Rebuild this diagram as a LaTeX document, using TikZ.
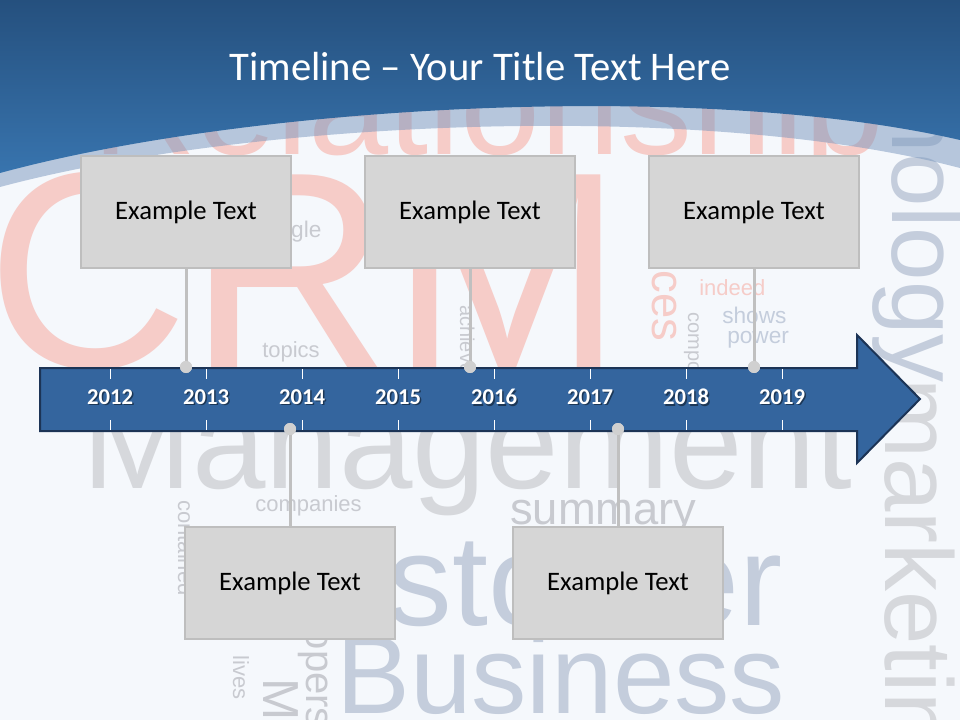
\documentclass[tikz,border=0pt]{standalone}
\usepackage{fontspec}
\setmainfont{Carlito}
\newfontfamily\cloudfont{Liberation Sans}
\usetikzlibrary{positioning}
\definecolor{pagebg}{RGB}{245,248,252}
\definecolor{bandlight}{RGB}{120,150,190}
\definecolor{bluetop}{RGB}{37,80,126}
\definecolor{bluebot}{RGB}{56,116,174}
\definecolor{arrowfill}{RGB}{52,101,158}
\definecolor{arrowedge}{RGB}{28,52,86}
\definecolor{boxfill}{RGB}{214,214,214}
\definecolor{boxedge}{RGB}{190,190,190}
\definecolor{stemgray}{RGB}{192,192,192}
\definecolor{dotgray}{RGB}{208,208,208}
\definecolor{crmpink}{RGB}{246,204,200}
\definecolor{wordgray}{RGB}{214,216,220}
\definecolor{wordblue}{RGB}{196,205,220}
\definecolor{smallgray}{RGB}{200,202,208}
\begin{document}
\begin{tikzpicture}[x=0.75pt,y=-0.75pt,
  cloud/.style={anchor=base west,inner sep=0pt},
  eventbox/.style={draw=boxedge,fill=boxfill,line width=1.5pt,minimum width=157pt,minimum height=84pt,
    font=\fontsize{20}{24}\selectfont},
  stem/.style={draw=stemgray,line width=2.25pt},
  stemdot/.style={circle,fill=dotgray,inner sep=0pt,minimum size=9pt},
  yearlabel/.style={text=white,font=\bfseries\fontsize{17}{20}\selectfont},
  yearshadow/.style={text=black,opacity=0.45,font=\bfseries\fontsize{17}{20}\selectfont},
  tick/.style={draw=white,line width=0.75pt},
  timearrow/.style={fill=arrowfill,draw=arrowedge,line width=1.5pt,line join=miter}]
\useasboundingbox (0,0) rectangle (960,720);
\begin{scope}
\clip (0,0) rectangle (960,720);
\fill[pagebg] (0,0) rectangle (960,720);
\node[cloud,text=crmpink,font=\cloudfont\fontsize{210}{210}\selectfont] (crm) at (-14,367) {CRM};
\node[cloud,text=crmpink,font=\cloudfont\fontsize{108}{108}\selectfont] (relation) at (92,155) {Relationship};
\node[cloud,text=wordgray,font=\cloudfont\fontsize{99}{99}\selectfont] (manage) at (82,488) {Management};
\node[cloud,text=wordblue,font=\cloudfont\fontsize{97}{97}\selectfont] (customer) at (222,625) {Customer};
\node[cloud,text=wordblue,font=\cloudfont\fontsize{83}{83}\selectfont] (business) at (336,713) {Business};
\node[cloud,text=wordblue,rotate=-90,font=\cloudfont\fontsize{72}{72}\selectfont] (techno) at (892,-82) {technology};
\node[cloud,text=wordgray,rotate=-90,font=\cloudfont\fontsize{72}{72}\selectfont] (market) at (885,378) {marketing};
\node[cloud,text=smallgray,font=\cloudfont\fontsize{16.5}{16.5}\selectfont] (topics) at (262,357) {topics};
\node[cloud,text=smallgray,font=\cloudfont\fontsize{16.5}{16.5}\selectfont] (companies) at (255,511) {companies};
\node[cloud,text=smallgray,font=\cloudfont\fontsize{34}{34}\selectfont] (summary) at (510,524) {summary};
\node[cloud,text=crmpink,font=\cloudfont\fontsize{16.5}{16.5}\selectfont] (indeed) at (699,296) {indeed};
\node[cloud,text=wordblue,font=\cloudfont\fontsize{17}{17}\selectfont] (shows) at (722,324) {shows};
\node[cloud,text=wordblue,font=\cloudfont\fontsize{17}{17}\selectfont] (power) at (727,343) {power};
\node[cloud,text=smallgray,font=\cloudfont\fontsize{17}{17}\selectfont] (single) at (262,238) {single};
\node[cloud,text=smallgray,rotate=-90,font=\cloudfont\fontsize{16.5}{16.5}\selectfont] (contained) at (178,500) {contained};
\node[cloud,text=smallgray,rotate=-90,font=\cloudfont\fontsize{16.5}{16.5}\selectfont] (lives) at (233,655) {lives};
\node[cloud,text=crmpink,rotate=-90,font=\cloudfont\fontsize{34}{34}\selectfont] (services) at (652,175) {services};
\node[cloud,text=smallgray,rotate=-90,font=\cloudfont\fontsize{15}{15}\selectfont] (components) at (688,312) {components};
\node[cloud,text=smallgray,rotate=-90,font=\cloudfont\fontsize{15}{15}\selectfont] (achieve) at (460,305) {achieve};
\node[cloud,text=smallgray,rotate=-90,font=\cloudfont\fontsize{38}{38}\selectfont] (members) at (263,678) {Members};
\node[cloud,text=smallgray,rotate=-90,font=\cloudfont\fontsize{30}{30}\selectfont] (developers) at (306,532) {developers};
\fill[bandlight,opacity=0.5] (0,0) -- (0,187) .. controls (250,120) and (700,100) .. (960,168) -- (960,0) -- cycle;
\shade[top color=bluetop,bottom color=bluebot] (0,0) -- (0,173) .. controls (250,105) and (700,80) .. (960,140) -- (960,0) -- cycle;
\end{scope}
\node[text=white,font=\fontsize{30.5}{36}\selectfont] (title) at (480,67) {Timeline -- Your Title Text Here};
\filldraw[timearrow] (40,368) -- (857,368) -- (857,335) -- (920,399) -- (857,463) -- (857,431) -- (40,431) -- cycle;
\foreach \yr [count=\i from 0] in {2012,2013,2014,2015,2016,2017,2018,2019} {
  \draw[tick] (110+96*\i,369) -- (110+96*\i,379);
  \draw[tick] (110+96*\i,420) -- (110+96*\i,430);
  \node[yearshadow] at (111.5+96*\i,398.5) {\yr};
  \node[yearlabel] (y\yr) at (110+96*\i,397) {\yr};
}
\node[stemdot] (d1) at (186,367) {};
\node[stemdot] (d2) at (470,367) {};
\node[stemdot] (d3) at (754,367) {};
\node[stemdot] (d4) at (290,429) {};
\node[stemdot] (d5) at (618,429) {};
\node[eventbox] (b1) at (186,212) {Example Text};
\node[eventbox] (b2) at (470,212) {Example Text};
\node[eventbox] (b3) at (754,212) {Example Text};
\node[eventbox] (b4) at (290,583) {Example Text};
\node[eventbox] (b5) at (618,583) {Example Text};
\draw[stem] (b1.south) -- (d1.center);
\draw[stem] (b2.south) -- (d2.center);
\draw[stem] (b3.south) -- (d3.center);
\draw[stem] (b4.north) -- (d4.center);
\draw[stem] (b5.north) -- (d5.center);
\node[stemdot] at (d1) {};
\node[stemdot] at (d2) {};
\node[stemdot] at (d3) {};
\node[stemdot] at (d4) {};
\node[stemdot] at (d5) {};
\end{tikzpicture}
\end{document}
